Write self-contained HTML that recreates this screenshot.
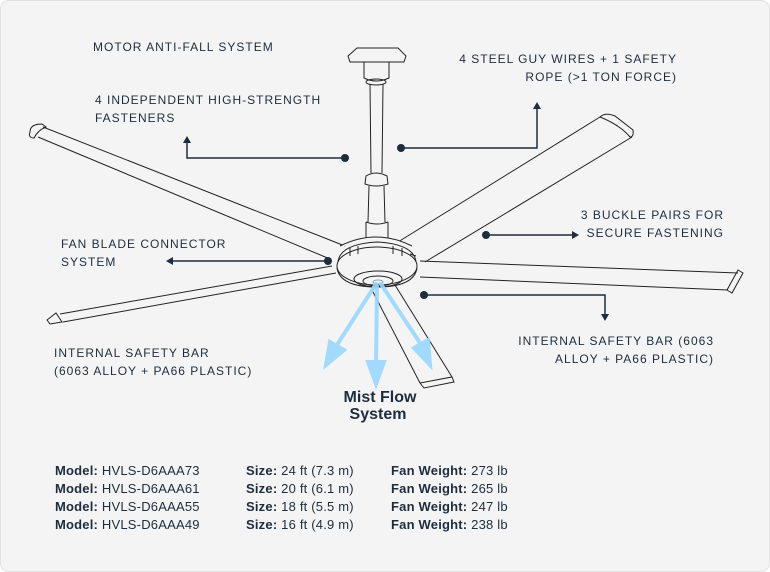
<!DOCTYPE html>
<html><head><meta charset="utf-8"><style>
html,body{margin:0;padding:0;background:#fff}
svg{display:block}
text{font-family:"Liberation Sans",sans-serif;fill:#1d2d3d}
.l{font-size:12px;letter-spacing:1px}
.t{font-size:13px;letter-spacing:0.2px}
</style></head><body>
<svg width="770" height="572" viewBox="0 0 770 572">
<rect x="0.5" y="0.5" width="769" height="571" rx="8" fill="#f4f4f4" stroke="#e2e2e2"/>
<g fill="none" stroke="#222" stroke-width="1">
<path d="M43,127 L345,246 M38,137 L330,259"/>
<path d="M30,132 Q30,124 42,124 L46,127 Q38,130 34,138 Q28,138 30,132Z"/>
<path d="M332,266 L60,314 M336,273 L63,322"/>
<path d="M47,320 L56,313 L62,322 L50,324Z"/>
<path d="M398,242 L600,117 M425,262 L632,137"/>
<path d="M600,117 Q605,112 615,116 L633,130 Q634,137 630,137 Q620,125 600,117Z"/>
<path d="M420,261 L738,273 M420,277 L728,290"/>
<path d="M738,270 L743,273 L732,293 L727,290Z"/>
<path d="M372,290 L420,383 M395,285 L452,377"/>
<path d="M420,383 L452,377 L454,382 L424,388Z"/>
<path d="M348,56 L357,48 L398,48 L406,56 L404,62 L350,62Z" fill="#f4f4f4"/>
<path d="M364,62 L364,78 Q376,84 389,78 L389,62"/>
<ellipse cx="376" cy="82" rx="10" ry="3"/>
<path d="M370,84 L371,173 M383,84 L382,173"/>
<path d="M366,176 Q376,170 387,176 L388,184 Q376,188 365,184Z"/>
<path d="M369,186 L368,222 M384,186 L385,222"/>
<path d="M366,222 L366,240 M388,222 L388,240 M366,222 Q377,226 388,222"/>
<path d="M340,246 Q376,228 412,246" fill="#f4f4f4"/>
<ellipse cx="377" cy="266" rx="40" ry="19" fill="#f4f4f4"/>
<path d="M338,262 Q340,244 377,242 Q414,244 416,262"/>
<path d="M337,268 Q340,287 377,287 Q414,287 417,268"/>
<ellipse cx="378" cy="279" rx="24" ry="8"/>
<ellipse cx="378" cy="281" rx="15" ry="5"/>
<ellipse cx="378" cy="282" rx="5" ry="2" stroke="#7ac"/>
<path d="M350,248 L350,256 M358,246 L358,254 M393,246 L393,254 M402,248 L402,256 M410,254 L416,256"/>
</g>
<g stroke="#9ad8ff" stroke-width="4" fill="#9ad8ff" stroke-linecap="round" opacity="0.9">
<path d="M376,284 L335,348" fill="none"/><path d="M326,365 L330,342 L344,350Z"/>
<path d="M377,286 L376,365" fill="none"/><path d="M376,384 L368,362 L384,362Z"/>
<path d="M381,284 L422,346" fill="none"/><path d="M430,365 L414,348 L428,340Z"/>
</g>
<g stroke="#1d2d3d" stroke-width="1.5" fill="none">
<path d="M345,158 L187,158 L187,142"/>
<path d="M401,148 L537,148 L537,108"/>
<path d="M486,235 L573,235"/>
<path d="M328,261 L172,261"/>
<path d="M424,295 L605,295 L605,315"/>
</g>
<g fill="#1d2d3d">
<circle cx="345" cy="158" r="4"/><circle cx="401" cy="148" r="4"/><circle cx="486" cy="235" r="4"/><circle cx="328" cy="261" r="4"/><circle cx="424" cy="295" r="4"/>
<path d="M183,143 L187,136 L191,143Z"/>
<path d="M533,109 L537,102 L541,109Z"/>
<path d="M572,231 L579,235 L572,239Z"/>
<path d="M173,257 L166,261 L173,265Z"/>
<path d="M601,314 L605,321 L609,314Z"/>
</g>
<text class="l" x="93" y="51">MOTOR ANTI-FALL SYSTEM</text>
<text class="l" x="95" y="104">4 INDEPENDENT HIGH-STRENGTH</text>
<text class="l" x="95" y="122">FASTENERS</text>
<text class="l" x="677" y="63" text-anchor="end">4 STEEL GUY WIRES + 1 SAFETY</text>
<text class="l" x="677" y="81" text-anchor="end">ROPE (&gt;1 TON FORCE)</text>
<text class="l" x="724" y="219" text-anchor="end">3 BUCKLE PAIRS FOR</text>
<text class="l" x="724" y="237" text-anchor="end">SECURE FASTENING</text>
<text class="l" x="61" y="248">FAN BLADE CONNECTOR</text>
<text class="l" x="61" y="266">SYSTEM</text>
<text class="l" x="714" y="345" text-anchor="end">INTERNAL SAFETY BAR (6063</text>
<text class="l" x="714" y="363" text-anchor="end">ALLOY + PA66 PLASTIC)</text>
<text class="l" x="54" y="357">INTERNAL SAFETY BAR</text>
<text class="l" x="54" y="375">(6063 ALLOY + PA66 PLASTIC)</text>
<text x="380" y="402" text-anchor="middle" style="font-size:16px;font-weight:bold">Mist Flow</text>
<text x="378" y="419" text-anchor="middle" style="font-size:16px;font-weight:bold">System</text>
<text class="t" x="55" y="475"><tspan font-weight="bold">Model:</tspan> HVLS-D6AAA73</text>
<text class="t" x="55" y="493"><tspan font-weight="bold">Model:</tspan> HVLS-D6AAA61</text>
<text class="t" x="55" y="511"><tspan font-weight="bold">Model:</tspan> HVLS-D6AAA55</text>
<text class="t" x="55" y="529"><tspan font-weight="bold">Model:</tspan> HVLS-D6AAA49</text>
<text class="t" x="246" y="475"><tspan font-weight="bold">Size:</tspan> 24 ft (7.3 m)</text>
<text class="t" x="246" y="493"><tspan font-weight="bold">Size:</tspan> 20 ft (6.1 m)</text>
<text class="t" x="246" y="511"><tspan font-weight="bold">Size:</tspan> 18 ft (5.5 m)</text>
<text class="t" x="246" y="529"><tspan font-weight="bold">Size:</tspan> 16 ft (4.9 m)</text>
<text class="t" x="391" y="475"><tspan font-weight="bold">Fan Weight:</tspan> 273 lb</text>
<text class="t" x="391" y="493"><tspan font-weight="bold">Fan Weight:</tspan> 265 lb</text>
<text class="t" x="391" y="511"><tspan font-weight="bold">Fan Weight:</tspan> 247 lb</text>
<text class="t" x="391" y="529"><tspan font-weight="bold">Fan Weight:</tspan> 238 lb</text>
</svg>
</body></html>
